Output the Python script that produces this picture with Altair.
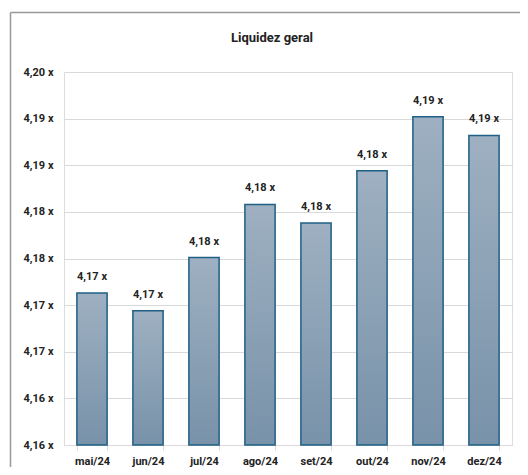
import altair as alt
import pandas as pd

months = ["mai/24", "jun/24", "jul/24", "ago/24", "set/24", "out/24", "nov/24", "dez/24"]
values = [4.1713, 4.1694, 4.1751, 4.1808, 4.1788, 4.1844, 4.1902, 4.1882]
y_ticks = [4.155, 4.160, 4.165, 4.170, 4.175, 4.180, 4.185, 4.190, 4.195]
title_text = "Liquidez geral"

FONT = "Roboto, Liberation Sans, sans-serif"
BASE = 4.155

df = pd.DataFrame({
    "mes": months,
    "valor": values,
    "base": [BASE] * len(values),
    "rotulo": [f"{v:.2f}".replace(".", ",") + " x" for v in values],
})

W, H = 448, 373

x_enc = alt.X("mes:N", sort=months, title=None,
              scale=alt.Scale(paddingInner=0.46, paddingOuter=0.23),
              axis=alt.Axis(labelAngle=0, domainColor="#d9d9d9", tickColor="#d9d9d9",
                            tickSize=5, tickBand="extent", labelPadding=5,
                            labelFont=FONT, labelFontWeight="bold", labelFontSize=11,
                            labelColor="#222222"))
y_scale = alt.Scale(domain=[BASE, 4.195], zero=False, nice=False)

bars = alt.Chart(df).mark_bar(
    color=alt.Gradient(gradient="linear",
                       stops=[alt.GradientStop(color="#9eb0c1", offset=0),
                              alt.GradientStop(color="#7892a9", offset=1)],
                       x1=0, x2=0, y1=0, y2=1),
    stroke="#1f5f86", strokeWidth=1.5
).encode(
    x=x_enc,
    y=alt.Y("valor:Q", scale=y_scale, title=None,
            axis=alt.Axis(values=y_ticks, domain=False, ticks=False,
                          gridColor="#d9d9d9", gridWidth=1, labelPadding=11,
                          labelExpr="replace(format(datum.value + 0.000001, '.2f'), '.', ',') + ' x'",
                          labelFont=FONT, labelFontWeight="bold", labelFontSize=11,
                          labelColor="#222222")),
    y2="base:Q",
)

labels = alt.Chart(df).mark_text(
    font=FONT, fontWeight="bold", fontSize=11, color="#222222",
    baseline="middle", dy=-16
).encode(
    x=alt.X("mes:N", sort=months),
    y=alt.Y("valor:Q", scale=y_scale),
    text="rotulo:N",
)

one = pd.DataFrame({"k": [0]})
title = alt.Chart(one).mark_text(
    font=FONT, fontWeight="bold", fontSize=13, color="#222222", baseline="middle"
).encode(x=alt.value(208), y=alt.value(-34), text=alt.value(title_text))

border_left = alt.Chart(one).mark_rule(color="#999999", strokeWidth=1.5).encode(
    x=alt.value(-53.5), y=alt.value(-59.5), y2=alt.value(420))
border_top = alt.Chart(one).mark_rule(color="#999999", strokeWidth=1.5).encode(
    x=alt.value(-53.5), x2=alt.value(480), y=alt.value(-59.5))

chart = alt.layer(bars, labels, title, border_left, border_top).properties(
    width=W, height=H,
    autosize=alt.AutoSizeParams(type="none"),
    padding={"left": 56, "top": 64, "right": 8, "bottom": 22},
).configure_view(stroke=None).configure(background="white")

chart.save("out.html", embed_options={"renderer": "svg", "actions": False})
